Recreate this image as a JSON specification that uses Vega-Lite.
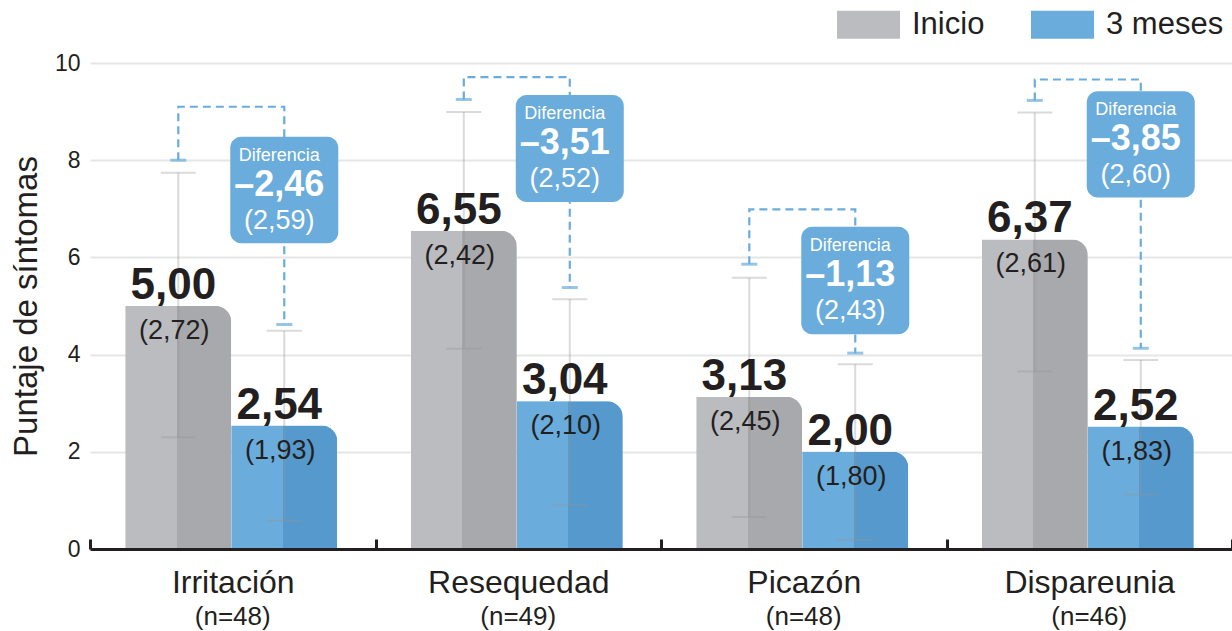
{
  "$schema": "https://vega.github.io/schema/vega-lite/v6.json",
  "width": 1142,
  "height": 486,
  "autosize": {"type": "none"},
  "padding": {"left": 90, "top": 63, "right": 0, "bottom": 82},
  "background": "white",
  "config": {"view": {"stroke": null}, "font": "Liberation Sans, Arial, sans-serif"},
  "datasets": {
    "bars": [
      {"cat": "Irritación", "serie": "Inicio", "mean": 5.00, "lo": 2.30, "hi": 7.74, "label": "5,00", "sd": "(2,72)"},
      {"cat": "Irritación", "serie": "3 meses", "mean": 2.54, "lo": 0.58, "hi": 4.49, "label": "2,54", "sd": "(1,93)"},
      {"cat": "Resequedad", "serie": "Inicio", "mean": 6.55, "lo": 4.12, "hi": 8.99, "label": "6,55", "sd": "(2,42)"},
      {"cat": "Resequedad", "serie": "3 meses", "mean": 3.04, "lo": 0.90, "hi": 5.14, "label": "3,04", "sd": "(2,10)"},
      {"cat": "Picazón", "serie": "Inicio", "mean": 3.13, "lo": 0.66, "hi": 5.58, "label": "3,13", "sd": "(2,45)"},
      {"cat": "Picazón", "serie": "3 meses", "mean": 2.00, "lo": 0.19, "hi": 3.80, "label": "2,00", "sd": "(1,80)"},
      {"cat": "Dispareunia", "serie": "Inicio", "mean": 6.37, "lo": 3.65, "hi": 8.98, "label": "6,37", "sd": "(2,61)"},
      {"cat": "Dispareunia", "serie": "3 meses", "mean": 2.52, "lo": 1.12, "hi": 3.89, "label": "2,52", "sd": "(1,83)"}
    ],
    "bracket": [
      {"cat": "Irritación", "serie": "Inicio", "y": 8.00, "ord": 1},
      {"cat": "Irritación", "serie": "Inicio", "y": 9.10, "ord": 2},
      {"cat": "Irritación", "serie": "3 meses", "y": 9.10, "ord": 3},
      {"cat": "Irritación", "serie": "3 meses", "y": 4.62, "ord": 4},
      {"cat": "Resequedad", "serie": "Inicio", "y": 9.25, "ord": 1},
      {"cat": "Resequedad", "serie": "Inicio", "y": 9.71, "ord": 2},
      {"cat": "Resequedad", "serie": "3 meses", "y": 9.71, "ord": 3},
      {"cat": "Resequedad", "serie": "3 meses", "y": 5.38, "ord": 4},
      {"cat": "Picazón", "serie": "Inicio", "y": 5.86, "ord": 1},
      {"cat": "Picazón", "serie": "Inicio", "y": 6.99, "ord": 2},
      {"cat": "Picazón", "serie": "3 meses", "y": 6.99, "ord": 3},
      {"cat": "Picazón", "serie": "3 meses", "y": 4.03, "ord": 4},
      {"cat": "Dispareunia", "serie": "Inicio", "y": 9.23, "ord": 1},
      {"cat": "Dispareunia", "serie": "Inicio", "y": 9.66, "ord": 2},
      {"cat": "Dispareunia", "serie": "3 meses", "y": 9.66, "ord": 3},
      {"cat": "Dispareunia", "serie": "3 meses", "y": 4.13, "ord": 4}
    ],
    "callout": [
      {"cat": "Irritación", "serie": "3 meses", "top": 8.48, "bottom": 6.29, "lab": "Diferencia", "diff": "–2,46", "sd": "(2,59)"},
      {"cat": "Resequedad", "serie": "3 meses", "top": 9.34, "bottom": 7.14, "lab": "Diferencia", "diff": "–3,51", "sd": "(2,52)"},
      {"cat": "Picazón", "serie": "3 meses", "top": 6.63, "bottom": 4.42, "lab": "Diferencia", "diff": "–1,13", "sd": "(2,43)"},
      {"cat": "Dispareunia", "serie": "3 meses", "top": 9.42, "bottom": 7.23, "lab": "Diferencia", "diff": "–3,85", "sd": "(2,60)"}
    ],
    "ns": [
      {"cat": "Irritación", "n": "(n=48)"},
      {"cat": "Resequedad", "n": "(n=49)"},
      {"cat": "Picazón", "n": "(n=48)"},
      {"cat": "Dispareunia", "n": "(n=46)"}
    ]
  },
  "layer": [
    {
      "data": {"name": "bars"},
      "mark": {"type": "bar", "cornerRadiusTopRight": 16},
      "encoding": {
        "x": {"field": "cat", "type": "nominal", "sort": null, "title": null,
          "scale": {"domain": ["Irritación", "Resequedad", "Picazón", "Dispareunia"], "paddingInner": 0, "paddingOuter": 0},
          "axis": {"labelAngle": 0, "labelFontSize": 32, "labelColor": "#231f20", "labelPadding": 28, "labelLimit": 400,
            "domainColor": "#231f20", "domainWidth": 3, "tickBand": "extent", "tickSize": -10, "tickWidth": 3,
            "tickColor": "#231f20", "grid": false, "zindex": 1}},
        "xOffset": {"field": "serie", "type": "nominal", "sort": null,
          "scale": {"domain": ["Inicio", "3 meses"], "paddingInner": 0, "paddingOuter": 0.347, "align": 0.48}},
        "y": {"field": "mean", "type": "quantitative", "title": "Puntaje de síntomas",
          "scale": {"domain": [0, 10], "nice": false},
          "axis": {"titleFontSize": 33, "titleFontWeight": "normal", "titleColor": "#231f20",
            "titlePadding": 11, "labelFontSize": 23, "labelColor": "#231f20", "labelPadding": 10, "domain": false,
            "ticks": false, "grid": true, "gridColor": "#e6e6e6", "gridWidth": 2, "values": [0, 2, 4, 6, 8, 10]}},
        "color": {"field": "serie", "type": "nominal",
          "scale": {"domain": ["Inicio", "3 meses"], "range": ["#bbbcc0", "#6aacdb"]},
          "legend": {"title": null, "orient": "none", "legendX": 747, "legendY": -70, "direction": "horizontal",
            "symbolType": "M-1,-0.444L1,-0.444L1,0.444L-1,0.444Z", "symbolSize": 3969, "symbolStrokeWidth": 0,
            "labelFontSize": 31, "labelColor": "#231f20", "labelOffset": 12, "columnPadding": 46, "padding": 0}}
      }
    },
    {
      "data": {"name": "bars"},
      "transform": [{"filter": "datum.serie === 'Inicio'"}],
      "mark": {"type": "bar", "cornerRadiusTopRight": 16,
        "fill": {"gradient": "linear", "x1": 0, "y1": 0, "x2": 1, "y2": 0,
          "stops": [{"offset": 0, "color": "#bbbcc0"}, {"offset": 0.485, "color": "#bbbcc0"}, {"offset": 0.485, "color": "#a8a9ad"}, {"offset": 1, "color": "#a8a9ad"}]}},
      "encoding": {
        "x": {"field": "cat", "type": "nominal", "sort": null, "title": null},
        "xOffset": {"field": "serie", "type": "nominal", "sort": null},
        "y": {"field": "mean", "type": "quantitative", "title": "Puntaje de síntomas"}
      }
    },
    {
      "data": {"name": "bars"},
      "transform": [{"filter": "datum.serie === '3 meses'"}],
      "mark": {"type": "bar", "cornerRadiusTopRight": 16,
        "fill": {"gradient": "linear", "x1": 0, "y1": 0, "x2": 1, "y2": 0,
          "stops": [{"offset": 0, "color": "#6aacdb"}, {"offset": 0.485, "color": "#6aacdb"}, {"offset": 0.485, "color": "#5599cd"}, {"offset": 1, "color": "#5599cd"}]}},
      "encoding": {
        "x": {"field": "cat", "type": "nominal", "sort": null, "title": null},
        "xOffset": {"field": "serie", "type": "nominal", "sort": null},
        "y": {"field": "mean", "type": "quantitative", "title": "Puntaje de síntomas"}
      }
    },
    {
      "data": {"name": "bars"},
      "mark": {"type": "rule", "color": "#969696", "opacity": 0.35, "strokeWidth": 2, "xOffset": -1},
      "encoding": {
        "x": {"field": "cat", "type": "nominal", "sort": null, "title": null},
        "xOffset": {"field": "serie", "type": "nominal", "sort": null},
        "y": {"field": "lo", "type": "quantitative", "title": "Puntaje de síntomas"},
        "y2": {"field": "hi"}
      }
    },
    {
      "data": {"name": "bars"},
      "mark": {"type": "tick", "color": "#969696", "opacity": 0.35, "size": 35, "thickness": 2, "orient": "horizontal", "xOffset": -1},
      "encoding": {
        "x": {"field": "cat", "type": "nominal", "sort": null, "title": null},
        "xOffset": {"field": "serie", "type": "nominal", "sort": null},
        "y": {"field": "lo", "type": "quantitative", "title": "Puntaje de síntomas"}
      }
    },
    {
      "data": {"name": "bars"},
      "mark": {"type": "tick", "color": "#969696", "opacity": 0.35, "size": 35, "thickness": 2, "orient": "horizontal", "xOffset": -1},
      "encoding": {
        "x": {"field": "cat", "type": "nominal", "sort": null, "title": null},
        "xOffset": {"field": "serie", "type": "nominal", "sort": null},
        "y": {"field": "hi", "type": "quantitative", "title": "Puntaje de síntomas"}
      }
    },
    {
      "data": {"name": "bracket"},
      "mark": {"type": "line", "color": "#6aacdb", "strokeWidth": 2.2, "strokeDash": [8, 5], "xOffset": -5},
      "encoding": {
        "x": {"field": "cat", "type": "nominal", "sort": null, "title": null},
        "xOffset": {"field": "serie", "type": "nominal", "sort": null},
        "y": {"field": "y", "type": "quantitative", "title": "Puntaje de síntomas"},
        "detail": {"field": "cat"},
        "order": {"field": "ord", "type": "quantitative"}
      }
    },
    {
      "data": {"name": "bracket"},
      "transform": [{"filter": "datum.ord === 1 || datum.ord === 4"}],
      "mark": {"type": "tick", "color": "#6aacdb", "size": 16, "thickness": 3, "orient": "horizontal", "xOffset": -5},
      "encoding": {
        "x": {"field": "cat", "type": "nominal", "sort": null, "title": null},
        "xOffset": {"field": "serie", "type": "nominal", "sort": null},
        "y": {"field": "y", "type": "quantitative", "title": "Puntaje de síntomas"}
      }
    },
    {
      "data": {"name": "callout"},
      "mark": {"type": "bar", "width": 108, "cornerRadius": 11, "color": "#6aacdb", "xOffset": -5},
      "encoding": {
        "x": {"field": "cat", "type": "nominal", "sort": null, "title": null},
        "xOffset": {"field": "serie", "type": "nominal", "sort": null},
        "y": {"field": "top", "type": "quantitative", "title": "Puntaje de síntomas"},
        "y2": {"field": "bottom"}
      }
    },
    {
      "data": {"name": "callout"},
      "mark": {"type": "text", "color": "white", "fontSize": 18, "baseline": "middle", "dy": 19, "dx": -5},
      "encoding": {
        "x": {"field": "cat", "type": "nominal", "sort": null, "title": null},
        "xOffset": {"field": "serie", "type": "nominal", "sort": null},
        "y": {"field": "top", "type": "quantitative", "title": "Puntaje de síntomas"},
        "text": {"field": "lab"}
      }
    },
    {
      "data": {"name": "callout"},
      "mark": {"type": "text", "color": "white", "fontSize": 36, "fontWeight": "bold", "baseline": "middle", "dy": 48, "dx": -5},
      "encoding": {
        "x": {"field": "cat", "type": "nominal", "sort": null, "title": null},
        "xOffset": {"field": "serie", "type": "nominal", "sort": null},
        "y": {"field": "top", "type": "quantitative", "title": "Puntaje de síntomas"},
        "text": {"field": "diff"}
      }
    },
    {
      "data": {"name": "callout"},
      "mark": {"type": "text", "color": "white", "fontSize": 27, "baseline": "middle", "dy": 84, "dx": -5},
      "encoding": {
        "x": {"field": "cat", "type": "nominal", "sort": null, "title": null},
        "xOffset": {"field": "serie", "type": "nominal", "sort": null},
        "y": {"field": "top", "type": "quantitative", "title": "Puntaje de síntomas"},
        "text": {"field": "sd"}
      }
    },
    {
      "data": {"name": "bars"},
      "mark": {"type": "text", "color": "#231f20", "fontSize": 44, "fontWeight": "bold", "baseline": "alphabetic", "dy": -7, "dx": -5},
      "encoding": {
        "x": {"field": "cat", "type": "nominal", "sort": null, "title": null},
        "xOffset": {"field": "serie", "type": "nominal", "sort": null},
        "y": {"field": "mean", "type": "quantitative", "title": "Puntaje de síntomas"},
        "text": {"field": "label"}
      }
    },
    {
      "data": {"name": "bars"},
      "mark": {"type": "text", "color": "#231f20", "fontSize": 27, "baseline": "middle", "dy": 25, "dx": -4},
      "encoding": {
        "x": {"field": "cat", "type": "nominal", "sort": null, "title": null},
        "xOffset": {"field": "serie", "type": "nominal", "sort": null},
        "y": {"field": "mean", "type": "quantitative", "title": "Puntaje de síntomas"},
        "text": {"field": "sd"}
      }
    },
    {
      "data": {"name": "ns"},
      "mark": {"type": "text", "color": "#231f20", "fontSize": 26, "baseline": "middle", "dy": 68},
      "encoding": {
        "x": {"field": "cat", "type": "nominal", "sort": null, "title": null},
        "y": {"datum": 0, "type": "quantitative", "title": "Puntaje de síntomas"},
        "text": {"field": "n"}
      }
    }
  ]
}
